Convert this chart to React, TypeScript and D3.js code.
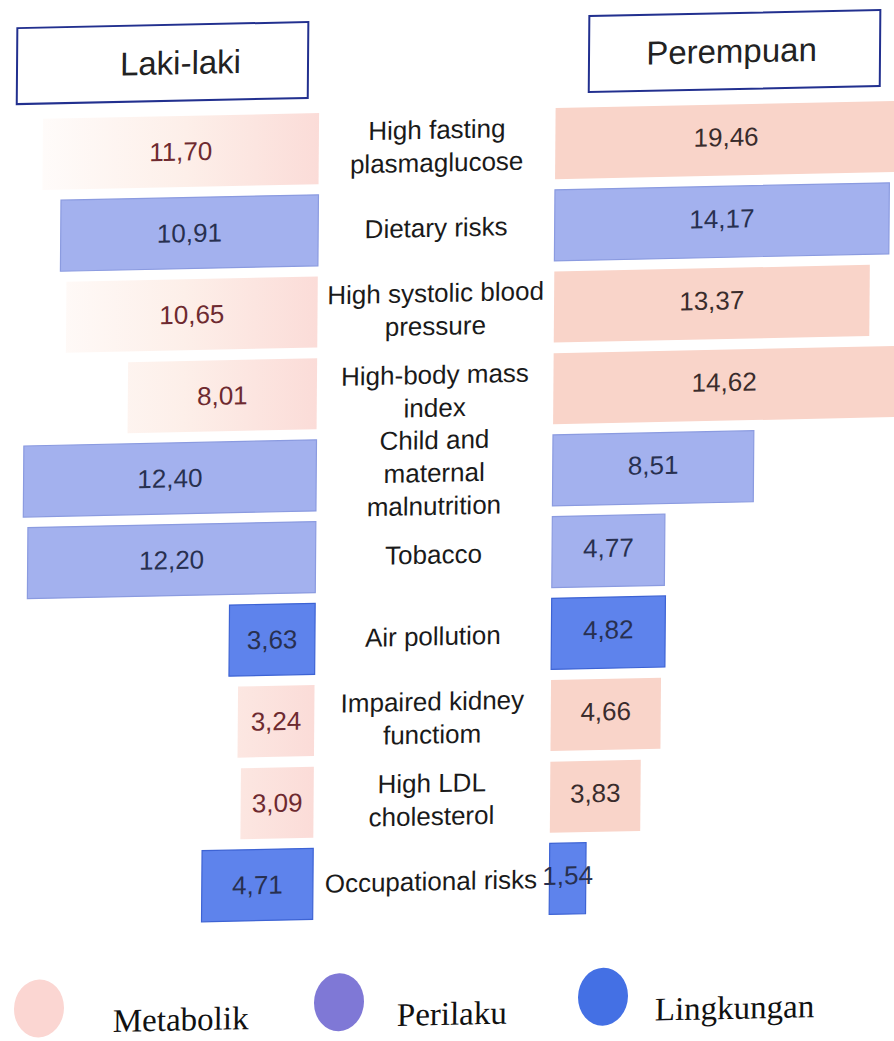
import React from "react";
import * as d3 from "d3";

// Risk factors, top to bottom (label lines as printed)
const riskLabels: string[][] = [
  ["High fasting", "plasmaglucose"],
  ["Dietary risks"],
  ["High systolic blood", "pressure"],
  ["High-body mass", "index"],
  ["Child and", "maternal", "malnutrition"],
  ["Tobacco"],
  ["Air pollution"],
  ["Impaired kidney", "functiom"],
  ["High LDL", "cholesterol"],
  ["Occupational risks"],
];

// Risk group of each factor
const riskGroups = [
  "Metabolik",
  "Perilaku",
  "Metabolik",
  "Metabolik",
  "Perilaku",
  "Perilaku",
  "Lingkungan",
  "Metabolik",
  "Metabolik",
  "Lingkungan",
];

// Values per sex
const maleValues = [11.7, 10.91, 10.65, 8.01, 12.4, 12.2, 3.63, 3.24, 3.09, 4.71];
const femaleValues = [19.46, 14.17, 13.37, 14.62, 8.51, 4.77, 4.82, 4.66, 3.83, 1.54];

const sexHeaders = ["Laki-laki", "Perempuan"];
const legendGroups = ["Metabolik", "Perilaku", "Lingkungan"];

const W = 894;
const H = 1041;
const LEFT_BASE = 316;
const RIGHT_BASE = 552.5;
const MID = 434;

const barFill = d3
  .scaleOrdinal<string, string>()
  .domain(legendGroups)
  .range(["#f9d4c9", "#a3b1ee", "#5e83ec"]);
const barStroke = d3
  .scaleOrdinal<string, string>()
  .domain(legendGroups)
  .range(["#f6cabe", "#8b9be0", "#3d63d4"]);
const legendFill = d3
  .scaleOrdinal<string, string>()
  .domain(legendGroups)
  .range(["#fbd6d2", "#7f78d6", "#4470e4"]);

const len = d3.scaleLinear().domain([0, 20]).range([0, 472]);
const yBand = d3
  .scaleBand<number>()
  .domain(d3.range(riskLabels.length))
  .range([105, 922])
  .paddingInner(0.13)
  .paddingOuter(0.065);

// Legend swatch and caption positions
const legendDotX = d3.scaleOrdinal<string, number>().domain(legendGroups).range([43, 343, 607]);
const legendTextX = d3.scaleOrdinal<string, number>().domain(legendGroups).range([117, 401, 659]);

// Header boxes
const headerX = d3.scaleOrdinal<string, number>().domain(sexHeaders).range([13.5, 585.5]);
const headerTextX = d3.scaleOrdinal<string, number>().domain(sexHeaders).range([177, 728]);

const valueText = (v: number) => d3.format(".2f")(v).replace(".", ",");

export default function App() {
  const bh = yBand.bandwidth();
  return (
    <svg
      width={W}
      height={H}
      style={{ position: "absolute", left: 0, top: 0, display: "block", background: "#fff" }}
      fontFamily="'Liberation Sans', Arial, sans-serif"
    >
      <defs>
        <linearGradient id="maleMetabolik" gradientUnits="userSpaceOnUse" x1={20} y1={0} x2={LEFT_BASE} y2={0}>
          <stop offset="0" stopColor="#fffdfc" />
          <stop offset="0.55" stopColor="#fdefe9" />
          <stop offset="1" stopColor="#fbdcd8" />
        </linearGradient>
      </defs>
      {/* slight oblique tilt of the whole figure */}
      <g transform="matrix(1,-0.021,-0.008,1,4,9.39)">
        {sexHeaders.map((h) => {
          const x0 = headerX(h) as number;
          return (
            <g key={h}>
              <rect x={x0} y={19} width={291} height={76} fill="#fff" stroke="#22308f" strokeWidth={2} />
              <text
                x={headerTextX(h) as number}
                y={57}
                textAnchor="middle"
                dominantBaseline="central"
                fontSize={33}
                fill="#222"
              >
                {h}
              </text>
            </g>
          );
        })}

        {riskLabels.map((lines, i) => {
          const g = riskGroups[i];
          const top = yBand(i) as number;
          const cy = top + bh / 2;
          const mv = maleValues[i];
          const fv = femaleValues[i];
          const mx0 = LEFT_BASE - len(mv);
          const fx1 = RIGHT_BASE + len(fv);
          const mcx = (Math.max(mx0, 0) + LEFT_BASE) / 2;
          const fcx = (RIGHT_BASE + Math.min(fx1, W)) / 2;
          const meta = g === "Metabolik";
          return (
            <g key={i}>
              <rect
                x={mx0}
                y={top}
                width={len(mv)}
                height={bh}
                fill={meta ? "url(#maleMetabolik)" : barFill(g)}
                stroke={meta ? "none" : barStroke(g)}
                strokeWidth={1.2}
              />
              <text
                x={mcx}
                y={cy}
                textAnchor="middle"
                dominantBaseline="central"
                fontSize={26}
                fill={meta ? "#6e2a30" : "#283050"}
              >
                {valueText(mv)}
              </text>
              <rect
                x={RIGHT_BASE}
                y={top}
                width={len(fv)}
                height={bh}
                fill={barFill(g)}
                stroke={meta ? "none" : barStroke(g)}
                strokeWidth={1.2}
              />
              <text
                x={fcx}
                y={cy - 3}
                textAnchor="middle"
                dominantBaseline="central"
                fontSize={26}
                fill={meta ? "#3a2c2c" : "#283050"}
              >
                {valueText(fv)}
              </text>
              <text
                x={MID}
                y={cy}
                textAnchor="middle"
                dominantBaseline="central"
                fontSize={26}
                fill="#1a1a1a"
              >
                {lines.map((ln, k) => (
                  <tspan key={k} x={MID} y={cy + (k - (lines.length - 1) / 2) * 33}>
                    {ln}
                  </tspan>
                ))}
              </text>
            </g>
          );
        })}

        {legendGroups.map((g) => {
          const cx = legendDotX(g) as number;
          return (
            <g key={g}>
              <ellipse cx={cx} cy={1000} rx={25} ry={29} fill={legendFill(g)} />
              <text
                x={legendTextX(g) as number}
                y={1025}
                fontFamily="'Liberation Serif', 'Times New Roman', serif"
                fontSize={33}
                fill="#111"
              >
                {g}
              </text>
            </g>
          );
        })}
      </g>
    </svg>
  );
}
